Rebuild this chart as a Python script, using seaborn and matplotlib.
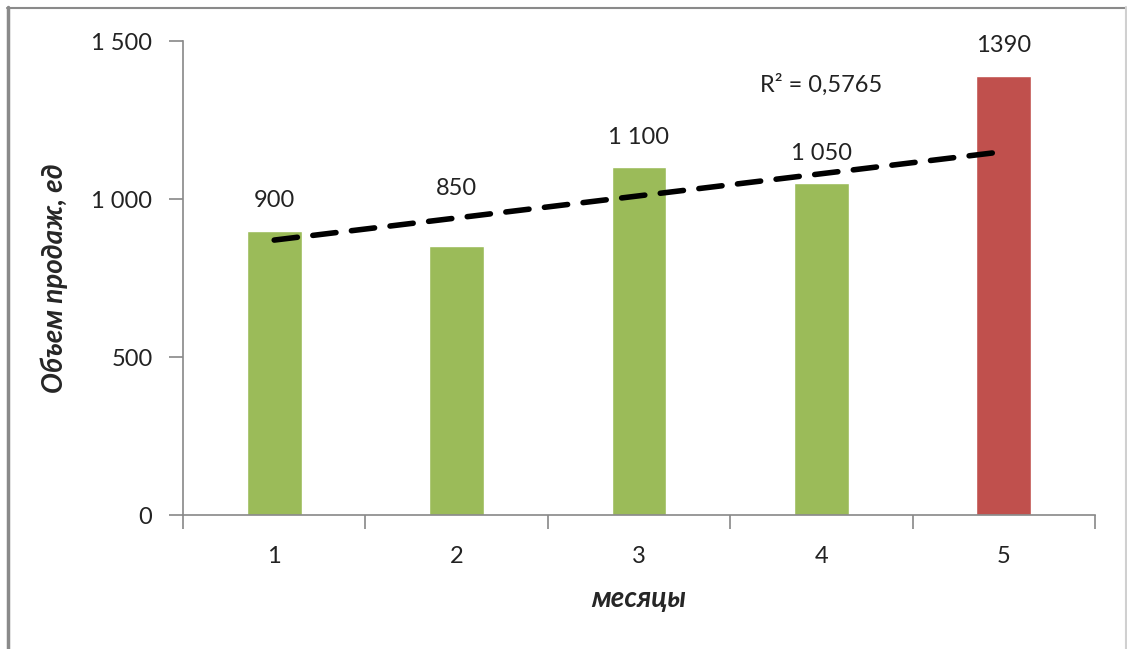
import numpy as np
import matplotlib
matplotlib.use('Agg')
import matplotlib.pyplot as plt
import seaborn as sns
from matplotlib.lines import Line2D

'''
Data
'''
months = ['1', '2', '3', '4', '5']
sales = [900, 850, 1100, 1050, 1390]
value_labels = ['900', '850', '1 100', '1 050', '1390']
bar_colors = ['#9BBB59', '#9BBB59', '#9BBB59', '#9BBB59', '#C0504D']
y_ticks = [0, 500, 1000, 1500]
y_tick_labels = ['0', '500', '1 000', '1 500']
fit_n = 4  # trend is fitted on the first 4 months, then extended

# label offset above bar top, pixels (850 is lifted above the trend line)
label_offsets = [30, 58, 30, 30, 30]

sns.set_theme(style='white')
plt.rcParams['font.family'] = ['Lato', 'DejaVu Sans']

fig = plt.figure(figsize=(11.27, 6.49), dpi=100)
ax = fig.add_axes([183 / 1127, 1 - 515 / 649, (1095 - 183) / 1127, (515 - 41) / 649])

sns.barplot(x=months, y=sales, hue=months, palette=bar_colors, legend=False,
            width=0.3, saturation=1, ax=ax)

# linear trend over the first months
pos = np.arange(len(months))
coef = np.polyfit(pos[:fit_n] + 1, sales[:fit_n], 1)
trend = np.polyval(coef, pos + 1)
pred = np.polyval(coef, pos[:fit_n] + 1)
ss_res = np.sum((np.array(sales[:fit_n]) - pred) ** 2)
ss_tot = np.sum((np.array(sales[:fit_n]) - np.mean(sales[:fit_n])) ** 2)
r2 = 1 - ss_res / ss_tot
ax.plot(pos, trend, color='black', lw=4, dashes=(4.2, 2.8),
        dash_capstyle='round', zorder=5)

for i, (v, lab) in enumerate(zip(sales, value_labels)):
    ax.annotate(lab, (i, v), xytext=(0, label_offsets[i]), textcoords='offset pixels',
                ha='center', va='center', fontsize=17, color='#222222')

ax.text(3, 1362, 'R² = ' + ('%.4f' % r2).replace('.', ','), ha='center', va='center',
        fontsize=17, color='#222222')

ax.set_xlim(-0.5, 4.5)
ax.set_ylim(0, 1500)
ax.set_yticks(y_ticks)
ax.set_yticklabels(y_tick_labels)
ax.set_xticks(pos)
ax.set_xticks(np.arange(-0.5, 5, 1), minor=True)
ax.tick_params(axis='x', which='major', length=0, pad=22, labelsize=17, labelcolor='#222222')
ax.tick_params(axis='x', which='minor', length=10, width=1.2, color='#888888', direction='out', bottom=True)
ax.tick_params(axis='y', length=10, width=1.2, color='#888888', direction='out', left=True,
               pad=12, labelsize=17, labelcolor='#222222')

for s in ['top', 'right']:
    ax.spines[s].set_visible(False)
for s in ['left', 'bottom']:
    ax.spines[s].set_color('#888888')
    ax.spines[s].set_linewidth(1.2)

ax.set_xlabel('месяцы', fontsize=20, fontweight='bold', fontstyle='italic')
ax.set_ylabel('Объем продаж, ед', fontsize=20, fontweight='bold', fontstyle='italic')
ax.xaxis.set_label_coords(0.5, -(586 - 515) / (515 - 41))
ax.yaxis.set_label_coords(-(183 - 68) / (1095 - 183), 0.5)

# outer frame
H, W = 649, 1127
fig.add_artist(Line2D([7.5 / W, 7.5 / W], [0, 1 - 7 / H], color='#8a8a8a', lw=2.5))
fig.add_artist(Line2D([7 / W, 1126 / W], [1 - 7.5 / H, 1 - 7.5 / H], color='#8a8a8a', lw=1.5))
fig.add_artist(Line2D([1126 / W, 1126 / W], [0, 1 - 7 / H], color='#d0d0d0', lw=1.5))

fig.savefig('out.png', dpi=100)
